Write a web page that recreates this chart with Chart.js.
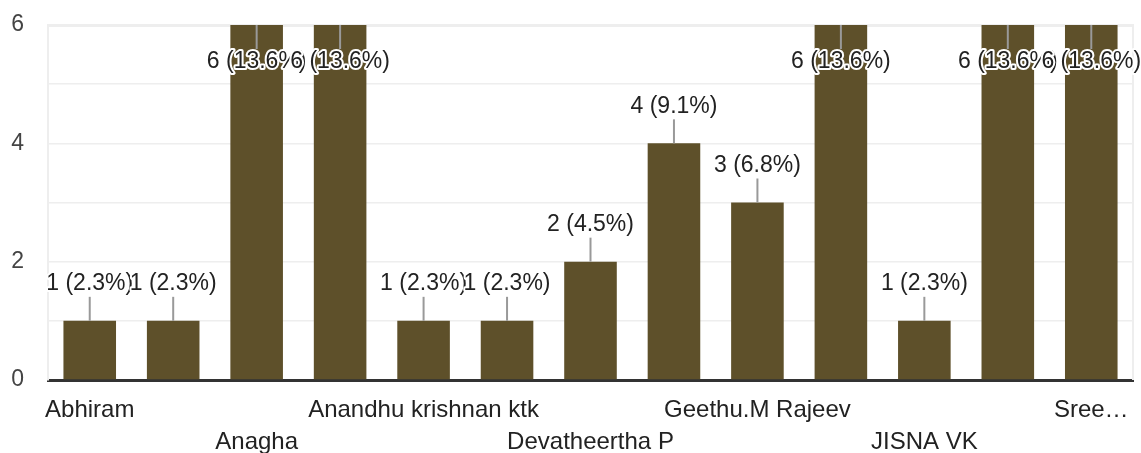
<!DOCTYPE html>
<html lang="en">
<head>
    <meta charset="UTF-8">
    <title>Responses</title>
    <style>
        html, body { margin: 0; padding: 0; background: #fff; }
        #wrap { width: 1141px; height: 453px; }
    </style>
</head>
<body>
    <div id="wrap"><canvas id="myChart"></canvas></div>

    <script src="https://cdn.jsdelivr.net/npm/chart.js"></script>
    <script>
        // names on the x axis (only every other one is shown, as in the form summary)
        const v_names = ["Abhiram", "Adithya", "Anagha", "Anamika", "Anandhu krishnan ktk", "Arjun",
            "Devatheertha P", "Fathima", "Geethu.M Rajeev", "Gopika", "JISNA VK", "Nandana", "Sree…"];
        const v_counts = [1, 1, 6, 6, 1, 1, 2, 4, 3, 6, 1, 6, 6];
        const v_percents = ["2.3", "2.3", "13.6", "13.6", "2.3", "2.3", "4.5", "9.1", "6.8", "13.6", "2.3", "13.6", "13.6"];
        const v_yTicks = [0, 2, 4, 6];

        const v_font = "'Liberation Sans', Arial, sans-serif";

        // count (percent) labels with the little grey leader line
        const v_labelPlugin = {
            id: "barLabels",
            afterDatasetsDraw(chart) {
                const ctx = chart.ctx;
                const area = chart.chartArea;
                const meta = chart.getDatasetMeta(0);
                ctx.save();
                ctx.font = "23px " + v_font;
                ctx.textAlign = "center";
                ctx.textBaseline = "middle";
                meta.data.forEach((bar, i) => {
                    let x = bar.x;
                    let y = bar.y;
                    let dir = (y - 37 - 12 < area.top) ? 1 : -1; // no room above -> put it inside
                    ctx.strokeStyle = "#999";
                    ctx.lineWidth = 2;
                    ctx.beginPath();
                    ctx.moveTo(x, y);
                    ctx.lineTo(x, y + dir * 24);
                    ctx.stroke();

                    let text = v_counts[i] + " (" + v_percents[i] + "%)";
                    ctx.lineWidth = 4;
                    ctx.lineJoin = "round";
                    ctx.strokeStyle = "#fff";
                    ctx.strokeText(text, x, y + dir * 37);
                    ctx.fillStyle = "#222";
                    ctx.fillText(text, x, y + dir * 37);
                });
                ctx.restore();
            }
        };

        // thin frame line on the right side of the plot
        const v_framePlugin = {
            id: "rightFrame",
            beforeDatasetsDraw(chart) {
                const ctx = chart.ctx;
                const a = chart.chartArea;
                ctx.save();
                ctx.strokeStyle = "#eeeeee";
                ctx.lineWidth = 2;
                ctx.beginPath();
                ctx.moveTo(a.right, a.top - 1);
                ctx.lineTo(a.right, a.bottom);
                ctx.stroke();
                ctx.restore();
            }
        };

        const ctx = document.getElementById("myChart");

        new Chart(ctx, {
            type: "bar",
            data: {
                labels: v_names,
                datasets: [{
                    data: v_counts,
                    backgroundColor: "#5e502a",
                    barPercentage: 0.63,
                    categoryPercentage: 1.0
                }]
            },
            options: {
                responsive: true,
                maintainAspectRatio: false,
                animation: false,
                layout: {
                    padding: { top: 22, right: 8, left: 10, bottom: 0 }
                },
                plugins: {
                    legend: { display: false },
                    tooltip: { enabled: false }
                },
                scales: {
                    x: {
                        z: 1,
                        grid: { display: false },
                        border: { display: true, color: "#333", width: 3 },
                        ticks: {
                            autoSkip: false,
                            maxRotation: 0,
                            minRotation: 0,
                            padding: 6,
                            color: "#222",
                            font: { family: v_font, size: 24, lineHeight: "32px" },
                            callback: function (value, index) {
                                if (index % 2 === 1) return "";
                                let name = v_names[index];
                                return (index / 2) % 2 === 0 ? name : ["", name];
                            }
                        },
                        afterFit: function (scale) {
                            scale.height = 73;
                        }
                    },
                    y: {
                        min: 0,
                        max: 6,
                        grid: {
                            drawTicks: false,
                            color: (c) => c.tick.value === 0 ? "rgba(0,0,0,0)" : "#eeeeee",
                            lineWidth: (c) => c.tick.value === 6 ? 3 : 1.5
                        },
                        border: { display: true, color: "#eeeeee", width: 2 },
                        ticks: {
                            stepSize: 1,
                            padding: 24,
                            color: "#444",
                            font: { family: v_font, size: 23, lineHeight: "2px" },
                            callback: function (value) {
                                return v_yTicks.includes(value) ? value : "";
                            }
                        },
                        afterFit: function (scale) {
                            scale.width = 38;
                        }
                    }
                }
            },
            plugins: [v_framePlugin, v_labelPlugin]
        });
    </script>
</body>
</html>
